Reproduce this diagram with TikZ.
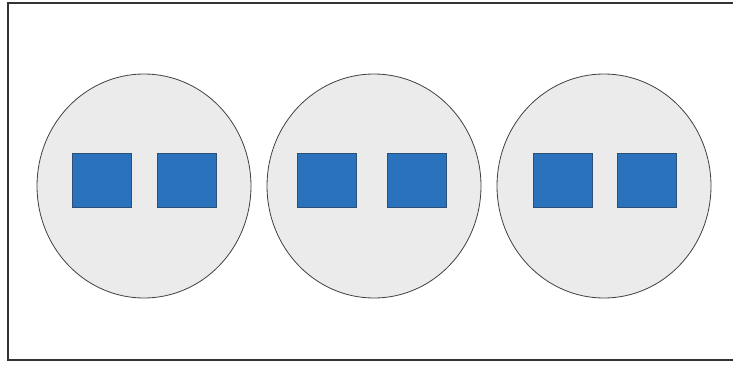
\documentclass[tikz,border=0pt]{standalone}
\usepackage{xcolor}
\usepackage{tikz}
\usetikzlibrary{shapes.geometric}

\definecolor{discgray}{HTML}{EBEBEB}
\definecolor{cellblue}{HTML}{2A72BC}
\definecolor{celledge}{HTML}{2C4F78}

\tikzset{
    disc/.style={draw=black!75, fill=discgray, ellipse, line width=0.8pt,
        minimum width=214pt, minimum height=224pt, inner sep=0pt},
    cell/.style={draw=celledge, fill=cellblue, line width=0.8pt,
        minimum width=59pt, minimum height=54pt, inner sep=0pt},
}

\begin{document}
\begin{tikzpicture}[x=1pt, y=-1pt]
    \useasboundingbox (0, 0) rectangle (733, 367);
    \draw[black!80, line width=1.5pt] (733, 3) -- (8, 3) -- (8, 360) -- (733, 360);

    \node[disc] at (144, 186) (D1) {};
    \node[disc] at (374, 186) (D2) {};
    \node[disc] at (604, 186) (D3) {};

    \node[cell] at (102, 180) (A1) {};
    \node[cell] at (186.5, 180) (B1) {};
    \node[cell] at (327, 180) (A2) {};
    \node[cell] at (416.5, 180) (B2) {};
    \node[cell] at (562.5, 180) (A3) {};
    \node[cell] at (647, 180) (B3) {};
\end{tikzpicture}
\end{document}
